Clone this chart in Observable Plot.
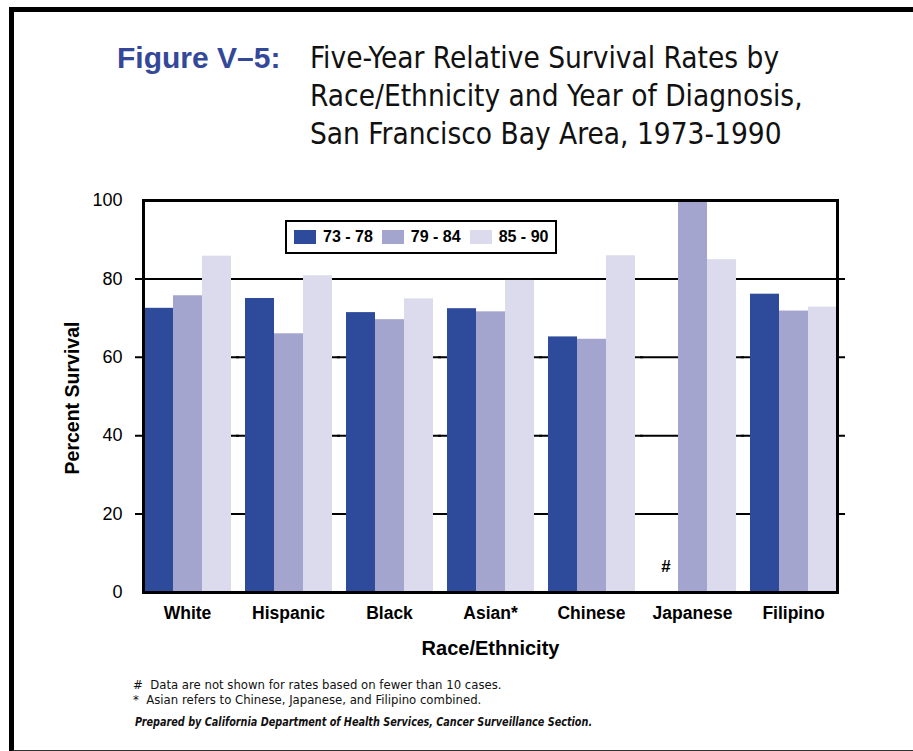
<!DOCTYPE html>
<html>
<head>
<meta charset="utf-8">
<script src="https://cdn.jsdelivr.net/npm/d3@7"></script>
<script src="https://cdn.jsdelivr.net/npm/@observablehq/plot@0.6"></script>
<style>
  html, body { margin: 0; padding: 0; background: #fff; }
  body { width: 913px; height: 751px; position: relative; overflow: hidden; font-family: "Liberation Sans", Arial, sans-serif; }
  .border { position: absolute; left: 9px; top: 7px; width: 920px; height: 738px; border-top: 5px solid #000; border-left: 5px solid #000; border-bottom: 2px solid #333; }
  .narrow { font-family: "Liberation Sans Narrow", "Arial Narrow", "DejaVu Sans Condensed", sans-serif; }
  .tline { position: absolute; font-size: 29.5px; line-height: 38px; white-space: nowrap; color: #111; }
  .fig { position: absolute; left: 117px; top: 39px; font-size: 30px; line-height: 38px; font-weight: bold; color: #34489a; white-space: nowrap; }
  #chart { position: absolute; left: 0; top: 180px; }
  .legend { position: absolute; left: 285px; top: 220px; width: 268px; height: 30px; border: 2px solid #000; background: #fff; display: flex; align-items: center; font-weight: bold; font-size: 16px; }
  .legend .item { display: flex; align-items: center; margin-left: 7px; margin-right: 2px; }
  .legend .sw { width: 22px; height: 14px; margin-right: 7px; }
  .ylabel { position: absolute; left: 72px; top: 398px; transform: translate(-50%, -50%) rotate(-90deg); font-size: 19.5px; font-weight: bold; white-space: nowrap; color: #000; }
  .note { position: absolute; left: 133px; font-size: 13px; white-space: nowrap; color: #111; }
  .prep { position: absolute; left: 135px; font-size: 12.5px; font-weight: bold; font-style: italic; white-space: nowrap; color: #111; transform: scaleX(0.86); transform-origin: left center; }
  g[aria-label="fx-axis label"] text { font-weight: bold; font-size: 20px; }
</style>
</head>
<body>
<div class="border"></div>
<div class="fig">Figure V–5:</div>
<div class="tline narrow" style="left:310px; top:39px;">Five-Year Relative Survival Rates by</div>
<div class="tline narrow" style="left:310px; top:77px;">Race/Ethnicity and Year of Diagnosis,</div>
<div class="tline narrow" style="left:310px; top:115px;">San Francisco Bay Area, 1973-1990</div>
<div id="chart"></div>
<div class="legend" id="legend"></div>
<div class="ylabel">Percent Survival</div>
<div class="note narrow" style="top:677px;">#&nbsp; Data are not shown for rates based on fewer than 10 cases.</div>
<div class="note narrow" style="top:692px;">*&nbsp; Asian refers to Chinese, Japanese, and Filipino combined.</div>
<div class="prep narrow" style="top:714px;">Prepared by California Department of Health Services, Cancer Surveillance Section.</div>
<script>
const races = ["White", "Hispanic", "Black", "Asian*", "Chinese", "Japanese", "Filipino"];
const periods = ["73 - 78", "79 - 84", "85 - 90"];
const colors = ["#2e4a9a", "#a4a5cf", "#dcdbee"];
const p7378 = [72.5, 75.0, 71.4, 72.4, 65.2, null, 76.1];
const p7984 = [75.7, 66.0, 69.6, 71.6, 64.6, 100, 71.8];
const p8590 = [85.8, 80.8, 74.9, 79.6, 85.9, 84.9, 72.8];
const yTicks = [0, 20, 40, 60, 80, 100];
const gridTicks = [20, 40, 60, 80];

const series = [p7378, p7984, p8590];
const data = [];
races.forEach((r, i) => periods.forEach((p, j) => data.push({race: r, period: p, value: series[j][i]})));

const leg = document.getElementById("legend");
periods.forEach((p, j) => {
  const it = document.createElement("div");
  it.className = "item";
  it.innerHTML = `<div class="sw" style="background:${colors[j]}"></div><span>${p}</span>`;
  leg.appendChild(it);
});

const chart = Plot.plot({
  width: 913,
  height: 490,
  marginTop: 20,
  marginBottom: 78,
  marginLeft: 133,
  marginRight: 65,
  style: {fontFamily: "'Liberation Sans', Arial, sans-serif", fontSize: "18px", color: "#000", background: "transparent", overflow: "visible"},
  fx: {domain: races, paddingInner: 0.128, paddingOuter: 0.079},
  x: {domain: periods, padding: 0, axis: null},
  y: {domain: [0, 100]},
  color: {domain: periods, range: colors},
  marks: [
    Plot.ruleY(gridTicks, {stroke: "#000", strokeWidth: 2, insetLeft: -8, insetRight: -8}),
    Plot.barY(data, {fx: "race", x: "period", y: "value", fill: "period"}),
    Plot.text(data.filter(d => d.value == null), {fx: "race", x: "period", y: 0, text: () => "#", dy: -26, dx: 2, fontWeight: "bold", fontSize: 17}),
    Plot.frame({facet: "super", stroke: "#000", strokeWidth: 3}),
    Plot.axisY(yTicks, {tickSize: 0, tickPadding: 12, dx: -9, label: null, fontSize: 18}),
    Plot.axisFx({anchor: "bottom", tickSize: 0, tickPadding: 14, label: "Race/Ethnicity", labelAnchor: "center", labelOffset: 62, fontSize: 17.5, fontWeight: "bold"})
  ]
});
document.getElementById("chart").appendChild(chart);
</script>
</body>
</html>
